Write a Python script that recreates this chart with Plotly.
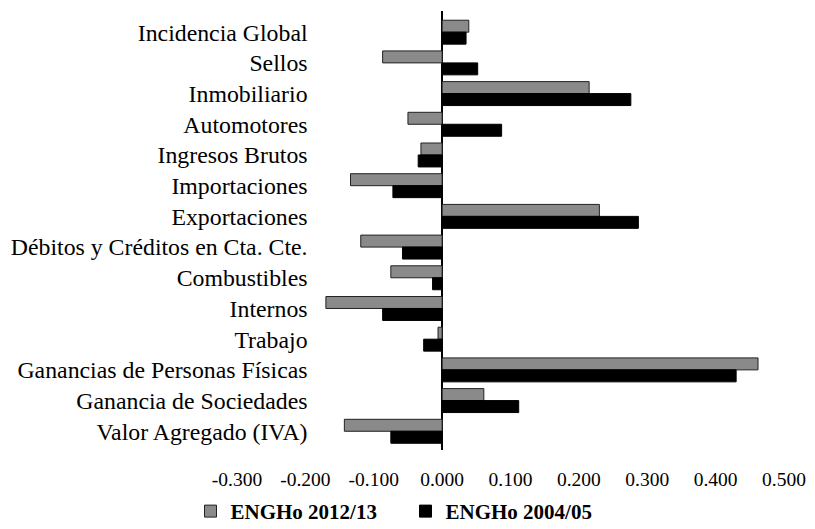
import plotly.graph_objects as go

categorias = [
    "Incidencia Global", "Sellos", "Inmobiliario", "Automotores", "Ingresos Brutos",
    "Importaciones", "Exportaciones", "Débitos y Créditos en Cta. Cte.", "Combustibles",
    "Internos", "Trabajo", "Ganancias de Personas Físicas", "Ganancia de Sociedades",
    "Valor Agregado (IVA)",
]
engho_2012 = [0.039, -0.087, 0.215, -0.050, -0.031, -0.134, 0.230, -0.119, -0.075,
              -0.170, -0.006, 0.462, 0.061, -0.143]
engho_2004 = [0.035, 0.052, 0.276, 0.087, -0.035, -0.072, 0.287, -0.058, -0.014,
              -0.087, -0.027, 0.430, 0.112, -0.075]

tick_vals = [-0.3, -0.2, -0.1, 0.0, 0.1, 0.2, 0.3, 0.4, 0.5]
tick_text = ["-0.300", "-0.200", "-0.100", "0.000", "0.100", "0.200", "0.300", "0.400", "0.500"]

SERIF = "Liberation Serif, Times New Roman, serif"

fig = go.Figure()
fig.add_trace(go.Bar(
    y=categorias, x=engho_2012, orientation="h", name="ENGHo 2012/13",
    marker=dict(color="#8a8a8a", line=dict(color="#222222", width=1)),
))
fig.add_trace(go.Bar(
    y=categorias, x=engho_2004, orientation="h", name="ENGHo 2004/05",
    marker=dict(color="#000000", line=dict(color="#000000", width=1)),
))

# la página tiene 8px de margen en el body: se compensa en el tamaño y márgenes
fig.update_layout(
    width=807, height=521,
    margin=dict(l=229, r=31, t=3, b=79, autoexpand=False),
    barmode="group", bargap=0.22, bargroupgap=0,
    plot_bgcolor="white", paper_bgcolor="white",
    font=dict(family=SERIF, color="black"),
    showlegend=True,
    legend=dict(
        orientation="h", x=-0.085, xanchor="left", y=-0.140, yanchor="middle",
        font=dict(family=SERIF, size=21, weight="bold", color="black"),
        entrywidth=170, traceorder="normal",
    ),
)

fig.update_xaxes(
    range=[-0.3, 0.5], tickvals=tick_vals, ticktext=tick_text,
    showgrid=False, showline=False, zeroline=True,
    zerolinecolor="black", zerolinewidth=2,
    ticklabelstandoff=15, tickfont=dict(size=19.5, family=SERIF),
)
fig.update_yaxes(
    range=[13.61, -0.69], anchor="free", position=0.129,
    showgrid=False, showline=False, zeroline=False, ticks="",
    tickfont=dict(size=23.8, family=SERIF),
)

fig.write_html("out.html")
